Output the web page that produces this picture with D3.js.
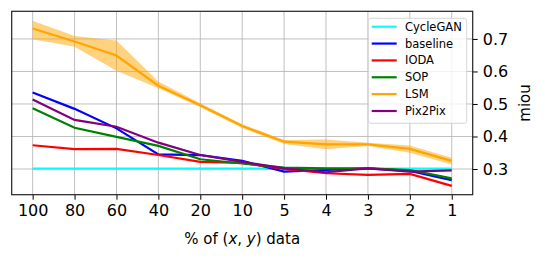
<!DOCTYPE html>
<html>
<head>
<meta charset="utf-8">
<script src="https://cdn.jsdelivr.net/npm/d3@7"></script>
<style>
  body { margin: 0; background: #fff; }
  svg { font-family: 'DejaVu Sans', sans-serif; }
</style>
</head>
<body>
<svg width="545" height="259"></svg>
<script>
const xLabels = ['100', '80', '60', '40', '20', '10', '5', '4', '3', '2', '1'];
const yTicks = [0.3, 0.4, 0.5, 0.6, 0.7];

const cycleGAN = [0.301, 0.301, 0.301, 0.301, 0.301, 0.301, 0.301, 0.301, 0.301, 0.301, 0.301];
const baseline = [0.535, 0.485, 0.425, 0.345, 0.343, 0.325, 0.292, 0.297, 0.302, 0.294, 0.266];
const ioda = [0.373, 0.361, 0.362, 0.343, 0.322, 0.319, 0.300, 0.287, 0.282, 0.285, 0.248];
const sop = [0.487, 0.427, 0.399, 0.371, 0.330, 0.317, 0.304, 0.302, 0.302, 0.297, 0.271];
const lsm = [0.732, 0.692, 0.649, 0.556, 0.496, 0.432, 0.384, 0.376, 0.376, 0.362, 0.325];
const lsmHigh = [0.756, 0.709, 0.695, 0.569, 0.502, 0.438, 0.389, 0.391, 0.381, 0.372, 0.335];
const lsmLow = [0.699, 0.676, 0.602, 0.548, 0.490, 0.426, 0.377, 0.361, 0.371, 0.350, 0.314];
const pix2pix = [0.514, 0.451, 0.430, 0.381, 0.343, 0.322, 0.302, 0.290, 0.302, 0.292, 0.296];

const series = [
  { name: 'CycleGAN', values: cycleGAN, color: 'cyan' },
  { name: 'baseline', values: baseline, color: 'blue' },
  { name: 'IODA', values: ioda, color: 'red' },
  { name: 'SOP', values: sop, color: 'green' },
  { name: 'LSM', values: lsm, color: 'orange' },
  { name: 'Pix2Pix', values: pix2pix, color: 'purple' }
];

const svg = d3.select('svg');
const pLeft = 11.7, pRight = 472.7, pTop = 11.3, pBottom = 194.7;

const x = d3.scaleLinear().domain([-0.5, 10.5]).range([pLeft, pRight]);
const y = d3.scaleLinear().domain([0.221, 0.785]).range([pBottom, pTop]);

// grid
const grid = svg.append('g').attr('stroke', '#b0b0b0').attr('stroke-width', 0.8);
xLabels.forEach((_, i) => {
  grid.append('line').attr('x1', x(i)).attr('x2', x(i)).attr('y1', pTop).attr('y2', pBottom);
});
yTicks.forEach(t => {
  grid.append('line').attr('x1', pLeft).attr('x2', pRight).attr('y1', y(t)).attr('y2', y(t));
});

svg.append('defs').append('clipPath').attr('id', 'clip')
  .append('rect').attr('x', pLeft).attr('y', pTop).attr('width', pRight - pLeft).attr('height', pBottom - pTop);

const plot = svg.append('g').attr('clip-path', 'url(#clip)');

const area = d3.area()
  .x((_, i) => x(i))
  .y0((_, i) => y(lsmLow[i]))
  .y1(d => y(d));

plot.append('path')
  .datum(lsmHigh)
  .attr('d', area)
  .attr('fill', 'orange')
  .attr('fill-opacity', 0.5);

const line = d3.line().x((_, i) => x(i)).y(d => y(d));

plot.selectAll('path.series')
  .data(series)
  .enter()
  .append('path')
  .attr('class', 'series')
  .attr('d', d => line(d.values))
  .attr('fill', 'none')
  .attr('stroke', d => d.color)
  .attr('stroke-width', 2.2);

// axes
const xAxis = svg.append('g')
  .attr('transform', `translate(0,${pBottom})`)
  .call(d3.axisBottom(x).tickValues(d3.range(11)).tickFormat(i => xLabels[i]).tickSize(5).tickPadding(5));
xAxis.select('.domain').remove();
xAxis.selectAll('text').attr('font-size', 16).attr('fill', '#000').attr('font-family', 'DejaVu Sans');

const yAxis = svg.append('g')
  .attr('transform', `translate(${pRight},0)`)
  .call(d3.axisRight(y).tickValues(yTicks).tickFormat(d3.format('.1f')).tickSize(5).tickPadding(5));
yAxis.select('.domain').remove();
yAxis.selectAll('text').attr('font-size', 16).attr('fill', '#000').attr('font-family', 'DejaVu Sans');

svg.append('rect')
  .attr('x', pLeft).attr('y', pTop)
  .attr('width', pRight - pLeft).attr('height', pBottom - pTop)
  .attr('fill', 'none').attr('stroke', '#222').attr('stroke-width', 1.2);

// labels
const xl = svg.append('text')
  .attr('x', (pLeft + pRight) / 2).attr('y', 244)
  .attr('text-anchor', 'middle').attr('font-size', 15);
xl.append('tspan').text('% of (');
xl.append('tspan').attr('font-style', 'italic').text('x');
xl.append('tspan').text(', ');
xl.append('tspan').attr('font-style', 'italic').text('y');
xl.append('tspan').text(') data');

svg.append('text')
  .attr('transform', `translate(530,${(pTop + pBottom) / 2}) rotate(-90)`)
  .attr('text-anchor', 'middle').attr('font-size', 15)
  .text('miou');

// legend
const legend = svg.append('g');
legend.append('rect')
  .attr('x', 368.3).attr('y', 18.3).attr('width', 98.4).attr('height', 105)
  .attr('rx', 2.5)
  .attr('fill', '#fff').attr('fill-opacity', 0.8)
  .attr('stroke', '#ccc').attr('stroke-width', 0.8);

const item = legend.selectAll('g.item')
  .data(series)
  .enter()
  .append('g')
  .attr('class', 'item')
  .attr('transform', (_, i) => `translate(0,${26.7 + i * 16.86})`);

item.append('line')
  .attr('x1', 371.7).attr('x2', 396.7)
  .attr('stroke', d => d.color).attr('stroke-width', 2.2);

item.append('text')
  .attr('x', 405).attr('dy', '0.35em')
  .attr('font-size', 11.5)
  .text(d => d.name);
</script>
</body>
</html>
